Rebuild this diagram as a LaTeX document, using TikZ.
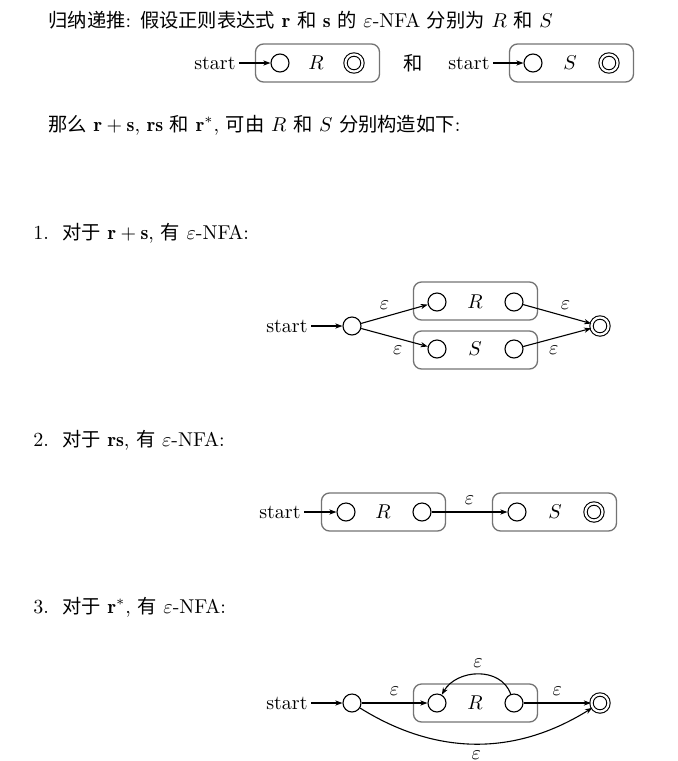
\documentclass[tikz,border=0pt]{standalone}
\usepackage{amsmath,amssymb}
\usepackage{fontspec}
\newfontfamily\cjk[Scale=0.965]{Noto Sans CJK SC}
\usetikzlibrary{arrows.meta}
\newcommand{\zh}[1]{{\cjk #1}}

\begin{document}
\begin{tikzpicture}[
  x=0.5pt,y=-0.5pt,>={Stealth[length=3.6pt,width=2.6pt]},
  state/.style={circle,draw,line width=0.55pt,minimum size=9pt,inner sep=0pt},
  accept/.style={state,double,double distance=1.1pt,minimum size=8.5pt},
  machine/.style={draw=black!55,rounded corners=4pt,line width=0.65pt,
    minimum width=62pt,minimum height=19pt,inner sep=0pt},
  trans/.style={->,line width=0.55pt},
  startlbl/.style={anchor=east,inner sep=1.5pt},
  para/.style={anchor=west,inner sep=0pt}
]
\useasboundingbox (0,0) rectangle (678,761);

% induction step
\node[para] (induction) at (48,20)
  {\zh{归纳递推}: \zh{假设正则表达式} $\mathbf{r}$ \zh{和} $\mathbf{s}$ \zh{的}
   $\varepsilon$-NFA \zh{分别为} $R$ \zh{和} $S$};

\node[machine] (boxR) at (317.5,63) {};
\node[state] (r0) at (280,63) {};
\node (rname) at (316,63) {$R$};
\node[accept] (rf) at (354,63) {};
\node[startlbl] (startR) at (239,63) {start};
\draw[trans] (startR) -- (r0);

\node (conj) at (413,63) {\zh{和}};

\node[machine] (boxS) at (571.5,63) {};
\node[state] (s0) at (533,63) {};
\node (sname) at (570,63) {$S$};
\node[accept] (sf) at (609,63) {};
\node[startlbl] (startS) at (493,63) {start};
\draw[trans] (startS) -- (s0);

\node[para] (construct) at (48,125)
  {\zh{那么} $\mathbf{r+s}$, $\mathbf{rs}$ \zh{和} $\mathbf{r}^*$, \zh{可由} $R$
   \zh{和} $S$ \zh{分别构造如下}:};

% case 1: union
\node[para] (case1) at (33,233)
  {1.\ \ \zh{对于} $\mathbf{r+s}$, \zh{有} $\varepsilon$-NFA:};

\node[machine] (uboxR) at (475.5,301) {};
\node[machine] (uboxS) at (475.5,350) {};
\node[state] (u0) at (352,326) {};
\node[state] (ur0) at (437,302) {};
\node (urname) at (475,302) {$R$};
\node[state] (ur1) at (514,302) {};
\node[state] (us0) at (437,349) {};
\node (usname) at (475,349) {$S$};
\node[state] (us1) at (514,349) {};
\node[accept] (uf) at (600,326) {};
\node[startlbl] (startU) at (311,326) {start};

\draw[trans] (startU) -- (u0);
\draw[trans] (u0) -- node[above,pos=0.35] {$\varepsilon$} (ur0);
\draw[trans] (u0) -- node[below,pos=0.55] {$\varepsilon$} (us0);
\draw[trans] (ur1) -- node[above,pos=0.62] {$\varepsilon$} (uf);
\draw[trans] (us1) -- node[below,pos=0.45] {$\varepsilon$} (uf);

% case 2: concatenation
\node[para] (case2) at (33,440)
  {2.\ \ \zh{对于} $\mathbf{rs}$, \zh{有} $\varepsilon$-NFA:};

\node[machine] (cboxR) at (383.5,512) {};
\node[machine] (cboxS) at (554.5,512) {};
\node[state] (cr0) at (346,512) {};
\node (crname) at (383,512) {$R$};
\node[state] (cr1) at (422,512) {};
\node[state] (cs0) at (517,512) {};
\node (csname) at (555,512) {$S$};
\node[accept] (csf) at (594,512) {};
\node[startlbl] (startC) at (304,512) {start};

\draw[trans] (startC) -- (cr0);
\draw[trans] (cr1) -- node[above] {$\varepsilon$} (cs0);

% case 3: closure
\node[para] (case3) at (33,607)
  {3.\ \ \zh{对于} $\mathbf{r}^*$, \zh{有} $\varepsilon$-NFA:};

\node[machine] (kboxR) at (475.5,703) {};
\node[state] (k0) at (352,703) {};
\node[state] (kr0) at (437,703) {};
\node (krname) at (475,703) {$R$};
\node[state] (kr1) at (514,703) {};
\node[accept] (kf) at (600,703) {};
\node[startlbl] (startK) at (311,703) {start};

\draw[trans] (startK) -- (k0);
\draw[trans] (k0) -- node[above,pos=0.5] {$\varepsilon$} (kr0);
\draw[trans] (kr1) -- node[above,pos=0.5] {$\varepsilon$} (kf);
\draw[trans] (kr1) to[out=110,in=60,looseness=1.1]
  node[above] {$\varepsilon$} (kr0);
\draw[trans] (k0) to[bend right=32] node[below] {$\varepsilon$} (kf);

\end{tikzpicture}
\end{document}
